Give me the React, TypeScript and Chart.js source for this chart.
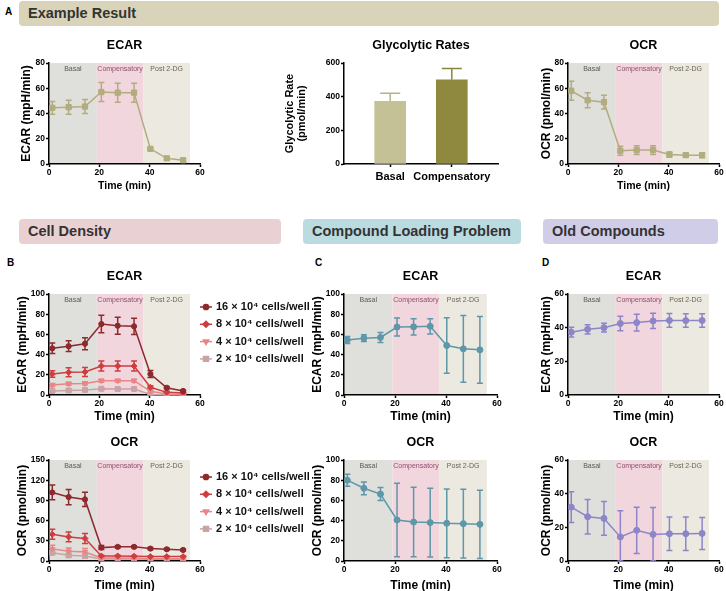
import React, { useEffect, useRef } from 'react';
import { Chart, registerables } from 'chart.js';
import { drawPoint } from 'chart.js/helpers';

Chart.register(...registerables);

const FONT = '"Liberation Sans", Arial, Helvetica, sans-serif';
Chart.defaults.font.family = FONT;
Chart.defaults.color = '#000';

// ---------------- data ----------------
const timePoints = [1.3, 7.8, 14.3, 20.8, 27.3, 33.8, 40.3, 46.8, 53.3];
const timeTicks = [0, 20, 40, 60];
const phaseLabels = ['Basal', 'Compensatory', 'Post 2-DG'];
const phaseEdges = [0, 19, 37.5, 56];

const exampleEcarTicks = [0, 20, 40, 60, 80];
const exampleEcar = [44.5, 45, 45.5, 57, 56.5, 56.5, 12, 4.5, 3];
const exampleEcarErr = [5, 5.5, 5.5, 7.5, 7.5, 7.5, 1, 1, 1];

const exampleOcrTicks = [0, 20, 40, 60, 80];
const exampleOcr = [58, 50.5, 49, 10.5, 11, 11, 7.5, 7, 7];
const exampleOcrErr = [7.5, 6, 5.5, 3.5, 3.5, 3.5, 2, 1.5, 2];

const glycoCategories = ['Basal', 'Compensatory'];
const glycoTicks = [0, 200, 400, 600];
const glycoRates = [372, 500];
const glycoErr = [48, 68];

const densityLabels = ['16 × 10⁴ cells/well', '8 × 10⁴ cells/well', '4 × 10⁴ cells/well', '2 × 10⁴ cells/well'];

const densityEcarTicks = [0, 20, 40, 60, 80, 100];
const ecar16 = [46.2, 48.3, 50.8, 70.3, 68.6, 68, 20.8, 7.2, 4];
const ecar16Err = [5.2, 5.3, 6, 8.6, 8.5, 8, 3.5, 1, 1];
const ecar8 = [20.8, 22.5, 22.8, 28.7, 28.7, 28.7, 7.6, 2.6, 2];
const ecar8Err = [3.3, 4.5, 4.5, 5, 5, 5, 1.5, 1, 0.8];
const ecar4 = [9.9, 11.2, 11.5, 14.2, 14.2, 14.2, 3.7, 1, 0.8];
const ecar4Err = [1.5, 1.5, 1.5, 1.5, 1.5, 1.5, 1, 0.5, 0.5];
const ecar2 = [4, 4.5, 5, 6.2, 6, 6, 0.5, 0.3, 0.3];
const ecar2Err = [1, 1, 1, 1, 1, 1, 0.5, 0.3, 0.3];

const densityOcrTicks = [0, 30, 60, 90, 120, 150];
const ocr16 = [101.8, 95, 91.5, 19.9, 21, 21, 18.4, 17.4, 16.4];
const ocr16Err = [11, 11.3, 10.5, 3, 1.5, 1.5, 1.5, 1.5, 1.5];
const ocr8 = [39.7, 35.8, 33.5, 7.5, 7.5, 7, 6.5, 6.5, 6.5];
const ocr8Err = [7.5, 7.2, 7.5, 1, 1, 1, 1, 1, 1];
const ocr4 = [18, 14.4, 13.4, 4.5, 4.5, 4, 3.5, 3.5, 3.5];
const ocr4Err = [5.5, 5, 5, 0.5, 0.5, 0.5, 0.5, 0.5, 0.5];
const ocr2 = [12.4, 8.4, 7.4, 3, 3, 2.8, 2.5, 2.5, 2.5];
const ocr2Err = [3, 3, 3, 0.5, 0.5, 0.5, 0.5, 0.5, 0.5];

const loadingEcarTicks = [0, 20, 40, 60, 80, 100];
const loadingEcar = [54.5, 56.3, 57, 67.3, 67.5, 68, 49, 45.7, 44.7];
const loadingEcarErr = [3.5, 3.3, 5, 9, 8, 7.5, 27.5, 33, 33];
const loadingOcrTicks = [0, 20, 40, 60, 80, 100];
const loadingOcr = [80, 72, 66.3, 40.6, 38.6, 38, 37.3, 37, 36.3];
const loadingOcrErr = [6, 6.3, 6.5, 36.5, 34.5, 34, 34, 34, 33.8];

const oldEcarTicks = [0, 20, 40, 60];
const oldEcar = [37.3, 39, 40, 42.5, 43, 44, 44.3, 44.2, 44.3];
const oldEcarErr = [2.9, 2.7, 2.6, 4.3, 5, 4.5, 4.1, 4, 4];
const oldOcrTicks = [0, 20, 40, 60];
const oldOcr = [32, 26.3, 25.3, 14.3, 18.2, 15.8, 16.2, 16.2, 16.4];
const oldOcrErr = [9.2, 10.2, 10, 15.5, 13.8, 16, 9.9, 9.9, 9.5];

// ---------------- styles ----------------
const PHASE_FILL = ['#dfdfdc', '#f2d6de', '#ece9e1'];
const PHASE_TEXT = ['#5a5a5a', '#8e4f6d', '#6b6352'];
const C_EXAMPLE = '#b2ac7e';
const C_LOAD = '#5e97a9';
const C_OLD = '#8c86c8';
const C_DENS = ['#8c2a2e', '#cf3d3f', '#ea8585', '#c9a3a5'];
const DENS_STYLE = [
  { pointStyle: 'circle', radius: 2.6, rotation: 0 },
  { pointStyle: 'rectRot', radius: 3, rotation: 0 },
  { pointStyle: 'triangle', radius: 3, rotation: 180 },
  { pointStyle: 'rect', radius: 3.5, rotation: 0 },
];
const BAR_COLORS = ['#c5c196', '#8f893f'];
const BAR_ERR_COLORS = ['#b8b285', '#8a843c'];

// ---------------- plugins ----------------
const phasePlugin = {
  id: 'phases',
  beforeDraw(chart: any) {
    const { ctx, chartArea: a, scales } = chart;
    const x = scales.x;
    ctx.save();
    const xs: number[][] = [];
    for (let i = 0; i < phaseLabels.length; i++) {
      const x0 = x.getPixelForValue(phaseEdges[i]);
      const x1 = x.getPixelForValue(phaseEdges[i + 1]);
      xs.push([x0, x1]);
      ctx.fillStyle = PHASE_FILL[i];
      ctx.fillRect(x0, a.top, x1 - x0, a.bottom - a.top);
    }
    ctx.font = `7px ${FONT}`;
    ctx.textAlign = 'center';
    ctx.textBaseline = 'middle';
    for (let i = 0; i < phaseLabels.length; i++) {
      ctx.fillStyle = PHASE_TEXT[i];
      ctx.fillText(phaseLabels[i], (xs[i][0] + xs[i][1]) / 2, a.top + 6);
    }
    ctx.restore();
  },
};

const errorBarPlugin = {
  id: 'errorBars',
  beforeDatasetsDraw(chart: any, _args: any, opts: any) {
    const { ctx, chartArea: a } = chart;
    const cap = opts.cap ?? 6;
    const upperOnly = !!opts.upperOnly;
    chart.data.datasets.forEach((ds: any, di: number) => {
      if (!ds.errors) return;
      const meta = chart.getDatasetMeta(di);
      const yScale = chart.scales[meta.yAxisID];
      ctx.save();
      ctx.lineWidth = opts.lineWidth ?? 1.5;
      meta.data.forEach((el: any, i: number) => {
        const v = ds.data[i].y;
        const e = ds.errors[i];
        const col = ds.errorColors ? ds.errorColors[i] : ds.borderColor;
        ctx.strokeStyle = col;
        const px = el.x;
        const yTop = yScale.getPixelForValue(v + e);
        const yBot = Math.min(yScale.getPixelForValue(v - e), a.bottom);
        ctx.beginPath();
        ctx.moveTo(px, upperOnly ? el.y : yBot);
        ctx.lineTo(px, yTop);
        ctx.moveTo(px - cap / 2, yTop);
        ctx.lineTo(px + cap / 2, yTop);
        if (!upperOnly) {
          ctx.moveTo(px - cap / 2, yBot);
          ctx.lineTo(px + cap / 2, yBot);
        }
        ctx.stroke();
      });
      ctx.restore();
    });
  },
};

const panelTitlePlugin = {
  id: 'panelTitle',
  afterDraw(chart: any, _args: any, opts: any) {
    if (!opts || !opts.text) return;
    const { ctx, chartArea: a } = chart;
    ctx.save();
    ctx.font = `bold 12.5px ${FONT}`;
    ctx.fillStyle = '#000';
    ctx.textAlign = 'center';
    ctx.textBaseline = 'middle';
    ctx.fillText(opts.text, (a.left + a.right) / 2, a.top - opts.gap);
    ctx.restore();
  },
};

const densityLegendPlugin = {
  id: 'densityLegend',
  afterDraw(chart: any, _args: any, opts: any) {
    if (!opts || opts.top == null) return;
    const { ctx, chartArea: a } = chart;
    ctx.save();
    chart.data.datasets.forEach((ds: any, i: number) => {
      const y = opts.top + i * opts.gap;
      const x0 = a.right;
      ctx.strokeStyle = ds.borderColor;
      ctx.fillStyle = ds.borderColor;
      ctx.lineWidth = 1.5;
      ctx.beginPath();
      ctx.moveTo(x0, y);
      ctx.lineTo(x0 + 12, y);
      ctx.stroke();
      drawPoint(ctx, { pointStyle: ds.pointStyle, radius: ds.pointRadius, rotation: ds.pointRotation || 0, borderWidth: 1 } as any, x0 + 6, y);
      ctx.fillStyle = '#111';
      ctx.font = `bold 11px ${FONT}`;
      ctx.textAlign = 'left';
      ctx.textBaseline = 'middle';
      ctx.fillText(ds.label, x0 + 16, y);
    });
    ctx.restore();
  },
};

// ---------------- geometry ----------------
type Geo = { cl: number; ct: number; cw: number; ch: number; l: number; t: number; r: number; b: number; yTitleX: number; xTitleY: number; xTitleSize: number };

const ROW_A = { ct: 28, ch: 172, t: 63, b: 164, xTitleY: 186, xTitleSize: 10.5 };
const ROW_2 = { ct: 262, ch: 168, t: 294, b: 395, xTitleY: 417, xTitleSize: 12 };
const ROW_3 = { ct: 428, ch: 172, t: 460, b: 561, xTitleY: 586, xTitleSize: 12 };

const axisCommon = (tickSize: number) => ({
  grid: { display: true, drawOnChartArea: false, drawTicks: true, tickLength: 3, tickWidth: 1.5, tickColor: '#000', offset: false },
  border: { display: true, color: '#000', width: 1.5 },
  ticks: { font: { size: tickSize, weight: 'bold' }, color: '#000', padding: 1, maxRotation: 0, autoSkip: false },
});

type Series = { label: string; values: number[]; errors: number[]; color: string; pointStyle: string; radius: number; rotation?: number };

function lineConfig(g: Geo, title: string, yTitle: string, yTicks: number[], series: Series[], legendTop?: number) {
  const ax = axisCommon(8.5);
  const xlh = g.xTitleSize * 1.2;
  return {
    type: 'line',
    data: {
      datasets: series.map((s) => ({
        label: s.label,
        data: s.values.map((v, i) => ({ x: timePoints[i], y: v })),
        errors: s.errors,
        borderColor: s.color,
        backgroundColor: s.color,
        pointBackgroundColor: s.color,
        pointBorderColor: s.color,
        pointStyle: s.pointStyle,
        pointRadius: s.radius,
        pointRotation: s.rotation || 0,
        pointBorderWidth: 1,
        borderWidth: 1.5,
        tension: 0,
        fill: false,
      })),
    },
    options: {
      animation: false,
      responsive: false,
      maintainAspectRatio: false,
      events: [],
      layout: { padding: { left: 0, top: g.t - g.ct, right: g.cl + g.cw - g.r, bottom: 0 } },
      plugins: {
        legend: { display: false },
        tooltip: { enabled: false },
        title: { display: false },
        errorBars: { cap: 6, lineWidth: 1.5 },
        panelTitle: { text: title, gap: 17.5 },
        densityLegend: legendTop != null ? { top: legendTop - g.ct, gap: 17.3 } : {},
      },
      scales: {
        x: {
          type: 'linear',
          min: timeTicks[0],
          max: timeTicks[timeTicks.length - 1],
          afterBuildTicks: (s: any) => { s.ticks = timeTicks.map((v) => ({ value: v })); },
          afterFit: (s: any) => { s.height = g.ct + g.ch - g.b; },
          ...ax,
          title: { display: true, text: 'Time (min)', font: { size: g.xTitleSize, weight: 'bold' }, color: '#000', padding: { top: 0, bottom: g.ct + g.ch - g.xTitleY - xlh / 2 } },
        },
        y: {
          type: 'linear',
          min: yTicks[0],
          max: yTicks[yTicks.length - 1],
          afterBuildTicks: (s: any) => { s.ticks = yTicks.map((v) => ({ value: v })); },
          afterFit: (s: any) => { s.width = g.l - g.cl; },
          ...ax,
          title: { display: true, text: yTitle, font: { size: 12, weight: 'bold' }, color: '#000', padding: { top: g.yTitleX - g.cl - 7.2, bottom: 0 } },
        },
      },
    },
    plugins: [phasePlugin, errorBarPlugin, panelTitlePlugin, densityLegendPlugin],
  };
}

function barConfig(g: Geo) {
  const ax = axisCommon(8.5);
  const lh = 11 * 1.1;
  return {
    type: 'bar',
    data: {
      datasets: [
        {
          label: 'Glycolytic Rate',
          data: glycoRates.map((v, i) => ({ x: i + 1, y: v })),
          errors: glycoErr,
          errorColors: BAR_ERR_COLORS,
          backgroundColor: BAR_COLORS,
          borderWidth: 0,
          barThickness: 31,
        },
      ],
    },
    options: {
      animation: false,
      responsive: false,
      maintainAspectRatio: false,
      events: [],
      layout: { padding: { left: 0, top: g.t - g.ct, right: g.cl + g.cw - g.r, bottom: 0 } },
      plugins: {
        legend: { display: false },
        tooltip: { enabled: false },
        title: { display: false },
        errorBars: { cap: 20, lineWidth: 1.5, upperOnly: true },
        panelTitle: { text: 'Glycolytic Rates', gap: 17.5 },
      },
      scales: {
        x: {
          type: 'linear',
          min: 0.25,
          max: 2.75,
          offset: false,
          afterBuildTicks: (s: any) => { s.ticks = glycoCategories.map((_c, i) => ({ value: i + 1 })); },
          afterFit: (s: any) => { s.height = g.ct + g.ch - g.b; },
          ...ax,
          ticks: { ...ax.ticks, font: { size: 11, weight: 'bold' }, padding: 3, callback: (v: any) => glycoCategories[Math.round(v) - 1] ?? '' },
        },
        y: {
          type: 'linear',
          min: glycoTicks[0],
          max: glycoTicks[glycoTicks.length - 1],
          afterBuildTicks: (s: any) => { s.ticks = glycoTicks.map((v) => ({ value: v })); },
          afterFit: (s: any) => { s.width = g.l - g.cl; },
          ...ax,
          title: {
            display: true,
            text: ['Glycolytic Rate', '(pmol/min)'],
            font: { size: 11, weight: 'bold', lineHeight: 1.1 },
            color: '#000',
            padding: { top: g.yTitleX - g.cl - lh / 2, bottom: 0 },
          },
        },
      },
    },
    plugins: [errorBarPlugin, panelTitlePlugin],
  };
}

const densSeries = (vals: number[][], errs: number[][]): Series[] =>
  densityLabels.map((label, i) => ({ label, values: vals[i], errors: errs[i], color: C_DENS[i], ...DENS_STYLE[i] }));

const geoA1: Geo = { cl: 0, cw: 210, l: 49, r: 200, yTitleX: 27, ...ROW_A };
const geoA2: Geo = { cl: 270, cw: 240, l: 344, r: 498, yTitleX: 290, ...ROW_A };
const geoA3: Geo = { cl: 515, cw: 211, l: 568, r: 719, yTitleX: 547, ...ROW_A };
const geoB1: Geo = { cl: 0, cw: 320, l: 49, r: 200, yTitleX: 23, ...ROW_2 };
const geoB2: Geo = { cl: 0, cw: 320, l: 49, r: 200, yTitleX: 23, ...ROW_3 };
const geoC1: Geo = { cl: 290, cw: 220, l: 344, r: 497, yTitleX: 318, ...ROW_2 };
const geoC2: Geo = { cl: 290, cw: 220, l: 344, r: 497, yTitleX: 318, ...ROW_3 };
const geoD1: Geo = { cl: 515, cw: 211, l: 568, r: 719, yTitleX: 547, ...ROW_2 };
const geoD2: Geo = { cl: 515, cw: 211, l: 568, r: 719, yTitleX: 547, ...ROW_3 };

const panels: { key: string; geo: Geo; make: () => any }[] = [
  { key: 'a1', geo: geoA1, make: () => lineConfig(geoA1, 'ECAR', 'ECAR (mpH/min)', exampleEcarTicks, [{ label: 'ECAR', values: exampleEcar, errors: exampleEcarErr, color: C_EXAMPLE, pointStyle: 'rect', radius: 3.7 }]) },
  { key: 'a2', geo: geoA2, make: () => barConfig(geoA2) },
  { key: 'a3', geo: geoA3, make: () => lineConfig(geoA3, 'OCR', 'OCR (pmol/min)', exampleOcrTicks, [{ label: 'OCR', values: exampleOcr, errors: exampleOcrErr, color: C_EXAMPLE, pointStyle: 'rect', radius: 3.7 }]) },
  { key: 'b1', geo: geoB1, make: () => lineConfig(geoB1, 'ECAR', 'ECAR (mpH/min)', densityEcarTicks, densSeries([ecar16, ecar8, ecar4, ecar2], [ecar16Err, ecar8Err, ecar4Err, ecar2Err]), 307) },
  { key: 'b2', geo: geoB2, make: () => lineConfig(geoB2, 'OCR', 'OCR (pmol/min)', densityOcrTicks, densSeries([ocr16, ocr8, ocr4, ocr2], [ocr16Err, ocr8Err, ocr4Err, ocr2Err]), 477) },
  { key: 'c1', geo: geoC1, make: () => lineConfig(geoC1, 'ECAR', 'ECAR (mpH/min)', loadingEcarTicks, [{ label: 'ECAR', values: loadingEcar, errors: loadingEcarErr, color: C_LOAD, pointStyle: 'circle', radius: 3 }]) },
  { key: 'c2', geo: geoC2, make: () => lineConfig(geoC2, 'OCR', 'OCR (pmol/min)', loadingOcrTicks, [{ label: 'OCR', values: loadingOcr, errors: loadingOcrErr, color: C_LOAD, pointStyle: 'circle', radius: 3 }]) },
  { key: 'd1', geo: geoD1, make: () => lineConfig(geoD1, 'ECAR', 'ECAR (mpH/min)', oldEcarTicks, [{ label: 'ECAR', values: oldEcar, errors: oldEcarErr, color: C_OLD, pointStyle: 'circle', radius: 3 }]) },
  { key: 'd2', geo: geoD2, make: () => lineConfig(geoD2, 'OCR', 'OCR (pmol/min)', oldOcrTicks, [{ label: 'OCR', values: oldOcr, errors: oldOcrErr, color: C_OLD, pointStyle: 'circle', radius: 3 }]) },
];

const banners = [
  { text: 'Example Result', left: 19, top: 1, width: 700, height: 25, bg: '#d9d3b9' },
  { text: 'Cell Density', left: 19, top: 219, width: 262, height: 25, bg: '#e9d1d3' },
  { text: 'Compound Loading Problem', left: 303, top: 219, width: 218, height: 25, bg: '#badbe0' },
  { text: 'Old Compounds', left: 543, top: 219, width: 175, height: 25, bg: '#d0cde9' },
];

const panelLetters = [
  { text: 'A', left: 5, top: 12 },
  { text: 'B', left: 7, top: 263 },
  { text: 'C', left: 315, top: 263 },
  { text: 'D', left: 542, top: 263 },
];

function ChartCanvas({ geo, make }: { geo: Geo; make: () => any }) {
  const ref = useRef<HTMLCanvasElement>(null);
  useEffect(() => {
    const chart = new Chart(ref.current as HTMLCanvasElement, make());
    return () => chart.destroy();
  }, []);
  return (
    <canvas
      ref={ref}
      width={geo.cw}
      height={geo.ch}
      style={{ position: 'absolute', left: geo.cl, top: geo.ct, width: geo.cw, height: geo.ch }}
    />
  );
}

export default function App() {
  return (
    <div
      style={{
        position: 'fixed',
        left: 0,
        top: 0,
        width: 726,
        height: 591,
        overflow: 'hidden',
        background: '#fff',
        fontFamily: FONT,
      }}
    >
      {banners.map((b) => (
        <div
          key={b.text}
          style={{
            position: 'absolute',
            left: b.left,
            top: b.top,
            width: b.width,
            height: b.height,
            background: b.bg,
            borderRadius: 4,
            boxSizing: 'border-box',
            paddingLeft: 9,
            lineHeight: `${b.height}px`,
            fontSize: 14.5,
            fontWeight: 'bold',
            color: '#333',
            whiteSpace: 'nowrap',
          }}
        >
          {b.text}
        </div>
      ))}
      {panelLetters.map((p) => (
        <div
          key={p.text}
          style={{
            position: 'absolute',
            left: p.left,
            top: p.top - 6,
            height: 12,
            lineHeight: '12px',
            fontSize: 10,
            fontWeight: 'bold',
            color: '#000',
          }}
        >
          {p.text}
        </div>
      ))}
      {panels.map((p) => (
        <ChartCanvas key={p.key} geo={p.geo} make={p.make} />
      ))}
    </div>
  );
}
